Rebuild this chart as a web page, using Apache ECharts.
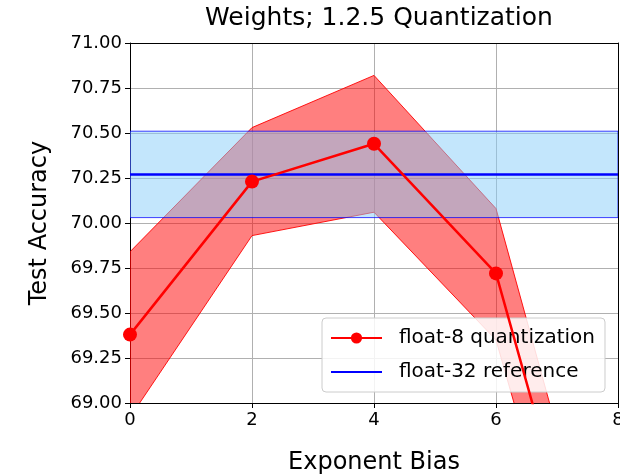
<!DOCTYPE html>
<html><head><meta charset="utf-8">
<script src="https://cdn.jsdelivr.net/npm/echarts@6/dist/echarts.min.js"></script>
<style>html,body{margin:0;padding:0;background:#fff}#c{width:620px;height:475px}</style>
</head><body><div id="c"></div>
<script>
// ---- data ----
const xValues = [0, 2, 4, 6, 8];
const quantMean = [69.38, 70.23, 70.44, 69.72, 67.30];
const quantUpper = [69.84, 70.53, 70.82, 70.08, 67.62];
const quantLower = [68.92, 69.93, 70.06, 69.35, 66.98];
const refX = [0, 8];
const refMean = 70.27;
const refUpper = 70.51;
const refLower = 70.03;
const seriesNames = ['float-8 quantization', 'float-32 reference'];
const titleText = 'Weights; 1.2.5 Quantization';
const xName = 'Exponent Bias';
const yName = 'Test Accuracy';

const FONT = 'DejaVu Sans';
const chart = echarts.init(document.getElementById('c'), null, {renderer: 'canvas'});

function bandSeries(xs, up, lo, fill, stroke, z) {
  return {
    type: 'custom', silent: true, z: z,
    data: [[xs[0], up[0]]],
    renderItem: function (params, api) {
      const pts = [];
      for (let i = 0; i < xs.length; i++) pts.push(api.coord([xs[i], up[i]]));
      for (let i = xs.length - 1; i >= 0; i--) pts.push(api.coord([xs[i], lo[i]]));
      const cs = params.coordSys;
      return {
        type: 'polygon',
        shape: {points: pts},
        style: {fill: fill, stroke: stroke, lineWidth: 1},
        clipPath: {type: 'rect', shape: {x: cs.x, y: cs.y, width: cs.width, height: cs.height}}
      };
    }
  };
}

const option = {
  animation: false,
  backgroundColor: '#fff',
  textStyle: {fontFamily: FONT},
  title: {
    text: titleText, left: 374, top: 1, textAlign: 'center',
    textStyle: {fontFamily: FONT, fontSize: 25, fontWeight: 'normal', color: '#000'}
  },
  grid: {left: 130, right: 2, top: 43, bottom: 72, containLabel: false, outerBoundsMode: 'none'},
  legend: {
    data: [
      {name: seriesNames[0]},
      {name: seriesNames[1], itemStyle: {opacity: 0}}
    ],
    orient: 'vertical', left: 322, top: 318,
    itemWidth: 51, itemHeight: 14, itemGap: 14,
    padding: [10, 10, 10, 8],
    borderColor: '#cccccc', borderWidth: 1, borderRadius: 4,
    backgroundColor: 'rgba(255,255,255,0.85)',
    textStyle: {fontFamily: FONT, fontSize: 20, color: '#000', lineHeight: 20, padding: [0, 0, 0, 12]}
  },
  xAxis: [{
    type: 'value', min: 0, max: 8, interval: 2,
    name: xName, nameLocation: 'middle', nameGap: 48,
    nameTextStyle: {fontFamily: FONT, fontSize: 24, color: '#000'},
    axisLine: {show: true, onZero: false, lineStyle: {color: '#000', width: 1}},
    axisTick: {show: true, length: 5, lineStyle: {color: '#000'}},
    axisLabel: {fontFamily: FONT, fontSize: 18, color: '#000', margin: 8},
    splitLine: {show: true, lineStyle: {color: '#b0b0b0', width: 1}}
  }, {
    type: 'value', min: 0, max: 8, position: 'top',
    axisLine: {show: true, onZero: false, lineStyle: {color: '#000', width: 1}},
    axisTick: {show: false}, axisLabel: {show: false}, splitLine: {show: false}
  }],
  yAxis: [{
    type: 'value', min: 69, max: 71, interval: 0.25,
    name: yName, nameLocation: 'middle', nameGap: 78,
    nameTextStyle: {fontFamily: FONT, fontSize: 24, color: '#000'},
    axisLine: {show: true, onZero: false, lineStyle: {color: '#000', width: 1}},
    axisTick: {show: true, length: 5, lineStyle: {color: '#000'}},
    axisLabel: {fontFamily: FONT, fontSize: 18, color: '#000', margin: 8,
      formatter: function (v) { return v.toFixed(2); }},
    splitLine: {show: true, lineStyle: {color: '#b0b0b0', width: 1}}
  }, {
    type: 'value', min: 69, max: 71, position: 'right',
    axisLine: {show: true, onZero: false, lineStyle: {color: '#000', width: 1}},
    axisTick: {show: false}, axisLabel: {show: false}, splitLine: {show: false}
  }],
  series: [
    bandSeries(xValues, quantUpper, quantLower, 'rgba(255,0,0,0.5)', 'rgba(255,0,0,0.9)', 1),
    bandSeries(refX, [refUpper, refUpper], [refLower, refLower], 'rgba(135,206,250,0.5)', 'rgba(0,0,255,0.75)', 2),
    {
      name: seriesNames[1], type: 'line', z: 3,
      data: refX.map(function (x) { return [x, refMean]; }),
      symbol: 'none', lineStyle: {color: '#0000ff', width: 2.5}, itemStyle: {color: '#0000ff'}
    },
    {
      name: seriesNames[0], type: 'line', z: 4,
      data: xValues.map(function (x, i) { return [x, quantMean[i]]; }),
      symbol: 'circle', symbolSize: 14,
      lineStyle: {color: '#ff0000', width: 2.5}, itemStyle: {color: '#ff0000'}
    }
  ]
};
chart.setOption(option);
</script>
</body></html>
